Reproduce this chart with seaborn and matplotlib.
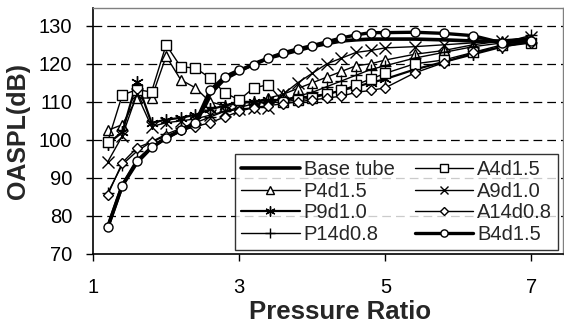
import matplotlib
matplotlib.use("Agg")
import matplotlib.pyplot as plt
import seaborn as sns

# ----------------------------------------------------------------
# DATA
# ----------------------------------------------------------------
pressure_ratio = [1.2, 1.4, 1.6, 1.8, 2.0, 2.2, 2.4, 2.6, 2.8, 3.0, 3.2, 3.4, 3.6,
                  3.8, 4.0, 4.2, 4.4, 4.6, 4.8, 5.0, 5.4, 5.8, 6.2, 6.6, 7.0]

base_tube = [77, 88, 94, 98, 100.5, 102.5, 104, 112, 116, 118, 120, 121.5, 122.5,
             123.5, 124.5, 125.3, 126, 126.3, 126.5, 126.5, 126.5, 126.3, 126, 126, 126.5]
p4d15 = [102.5, 104, 111, 111, 122, 115.8, 113.7, 110, 109, 109.5, 110, 111, 112,
         113.5, 115, 116.5, 118, 119.5, 120, 121, 122.5, 123.5, 125, 126, 126.5]
p9d10 = [99, 102, 115.3, 104.5, 105.3, 105.8, 106.6, 108, 109, 110, 110, 110.5, 110.5,
         111, 111.5, 112, 113, 114, 115, 116, 118.5, 120.5, 122.5, 124.5, 126]
p14d08 = [86, 93.5, 97, 99.5, 101.5, 103, 104.5, 106, 107.5, 108.5, 109.5, 110, 110.5,
          111.5, 112.5, 114, 115.5, 117, 118.5, 119.5, 121.5, 123, 124.5, 125.5, 127.5]
a4d15 = [99.5, 111.8, 113.2, 112.6, 125, 119.2, 118.9, 116.3, 112.4, 110.5, 113.7, 114.5, 110,
         110.5, 111, 112, 113, 114.5, 116, 117.5, 120, 121, 123, 125, 125.5]
a9d10 = [94.2, 101, 112, 103.5, 104.5, 105, 105.5, 106.5, 107.5, 108, 108.5, 108.5, 112,
         115, 117.5, 120, 121.5, 123, 123.5, 124.2, 124.5, 125, 125.5, 126, 127]
a14d08 = [85.5, 94, 97.9, 99.5, 101, 102.5, 103.5, 104.5, 106, 107.5, 108.5, 109, 109.5,
          110, 110.5, 111, 111.5, 112.5, 113, 113.7, 117.6, 120.3, 123, 124.5, 125.5]
b4d15 = [77, 88, 94.5, 98, 100.5, 102.5, 104.5, 113, 116.6, 118.4, 119.7, 121.5, 122.9,
         123.9, 124.8, 125.8, 126.8, 127.6, 128.2, 128.2, 128.3, 128, 127.4, 125.5, 126]

labels = ["Base tube", "P4d1.5", "P9d1.0", "P14d0.8",
          "A4d1.5", "A9d1.0", "A14d0.8", "B4d1.5"]
series = [base_tube, p4d15, p9d10, p14d08, a4d15, a9d10, a14d08, b4d15]

# ----------------------------------------------------------------
# STYLE
# ----------------------------------------------------------------
sns.set_style("white")
plt.rcParams['font.family'] = ['Liberation Sans', 'DejaVu Sans']

ASTERISK = (6, 2, 0)
styles = {
    "Base tube": dict(marker=None, lw=2.6, ms=0),
    "P4d1.5": dict(marker='^', lw=1.0, ms=7),
    "P9d1.0": dict(marker=ASTERISK, lw=1.6, ms=9),
    "P14d0.8": dict(marker='+', lw=1.0, ms=9),
    "A4d1.5": dict(marker='s', lw=1.0, ms=7),
    "A9d1.0": dict(marker='x', lw=1.0, ms=8),
    "A14d0.8": dict(marker='D', lw=1.0, ms=5.5),
    "B4d1.5": dict(marker='o', lw=2.4, ms=6.5),
}

fig = plt.figure(figsize=(5.64, 3.29), dpi=100)
ax = fig.add_axes([0.165, 0.228, 0.833, 0.748])

for name, ys in zip(labels, series):
    st = styles[name]
    kw = dict(color='black', linewidth=st['lw'], label=name)
    if st['marker'] is not None:
        kw.update(marker=st['marker'], markersize=st['ms'],
                  markerfacecolor='white', markeredgecolor='black',
                  markeredgewidth=1.0)
    sns.lineplot(x=pressure_ratio, y=ys, ax=ax, **kw)

ax.set_xlim(1, 7.43)
ax.set_ylim(70, 134.7)
ax.set_xticks([1, 3, 5, 7])
ax.set_yticks(range(70, 131, 10))
ax.tick_params(axis='both', labelsize=14.5, direction='out', length=5, width=1,
               bottom=True, left=True, colors='black')
ax.tick_params(axis='x', pad=12)
ax.tick_params(axis='y', pad=10)
for y in range(80, 131, 10):
    ax.axhline(y, color='black', linestyle=(0, (7, 4)), linewidth=0.9, zorder=0)

for side in ['left', 'bottom']:
    ax.spines[side].set_color('black')
    ax.spines[side].set_linewidth(1.2)
for side in ['top', 'right']:
    ax.spines[side].set_color('#808080')
    ax.spines[side].set_linewidth(1.0)

ax.set_xlabel("Pressure Ratio", fontsize=18.5, fontweight='bold')
ax.xaxis.set_label_coords(0.526, -0.185)
ax.set_ylabel("OASPL(dB)", fontsize=18, fontweight='bold', labelpad=6)

leg = ax.legend(ncol=2, loc='lower right', bbox_to_anchor=(0.99, 0.015),
                fontsize=14.5, frameon=True, fancybox=False, edgecolor='black',
                handlelength=2.9, handletextpad=0.2, columnspacing=1.0,
                labelspacing=0.14, borderpad=0.3, borderaxespad=0.0,
                markerscale=0.8)
leg.get_frame().set_linewidth(1.0)

plt.savefig("out.png", dpi=100)
plt.close()
